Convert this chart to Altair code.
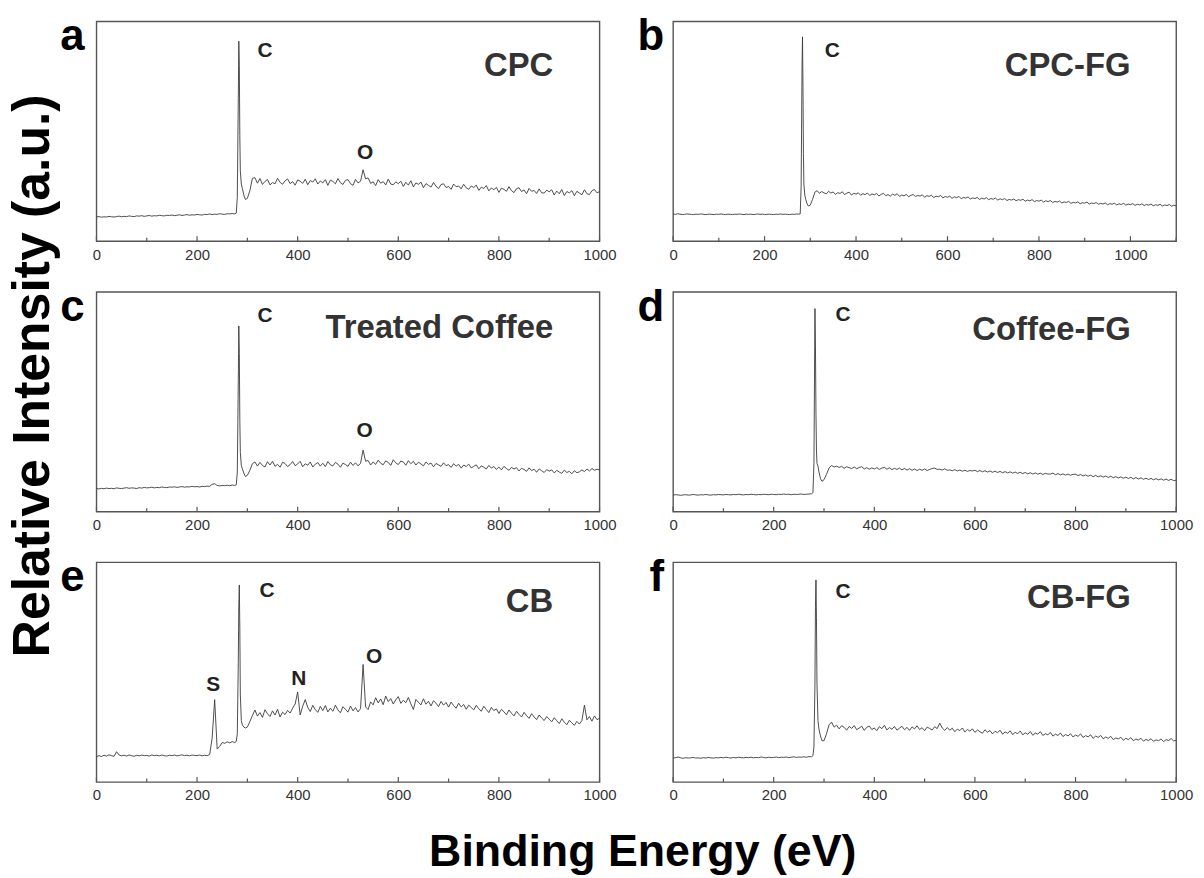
import altair as alt
import pandas as pd

FONT = "Liberation Sans"
FRAME = "#555555"
LINE = "#3a3a3a"
W, H = 506, 221

# Binding-energy sampling of the survey scans (eV)
E_LOW = list(range(0, 280, 5))                                      # 0 ... 275
E_PEAK = [278, 280, 282, 283, 284, 285, 286, 288, 290, 293, 296]    # C 1s region
E_HIGH = list(range(300, 1005, 5))                                  # 300 ... 1000
E_HIGH_LONG = list(range(300, 1105, 5))                             # 300 ... 1100

ENERGY = E_LOW + E_PEAK + E_HIGH
ENERGY_LONG = E_LOW + E_PEAK + E_HIGH_LONG

# Relative intensity, % of panel height
cpc = [
    11.0, 11.2, 10.9, 11.1, 11.0, 11.3, 11.1, 11.0, 11.2, 11.4,
    11.1, 11.3, 11.2, 11.5, 11.3, 11.2, 11.5, 11.4, 11.6, 11.3,
    11.5, 11.7, 11.4, 11.6, 11.5, 11.8, 11.6, 11.5, 11.8, 11.7,
    11.9, 11.6, 11.8, 12.0, 11.7, 11.9, 12.1, 11.8, 12.0, 11.9,
    12.2, 12.0, 11.9, 12.2, 12.1, 12.4, 12.1, 12.3, 12.2, 12.5,
    12.3, 12.2, 12.5, 12.4, 12.6, 12.4,
    12.8, 20.0, 65.0, 91.0, 80.0, 48.0, 32.0, 26.0, 24.0, 21.0, 19.0,
    19.5, 23.0, 28.6, 28.9, 26.4, 28.5, 25.8, 27.2, 28.1, 25.6,
    26.7, 26.1, 28.6, 26.8, 25.9, 27.5, 28.3, 26.2, 27.1, 25.5,
    27.9, 27.3, 26.3, 28.2, 25.7, 27.6, 26.9, 28.4, 26.0, 27.4,
    26.5, 28.0, 25.4, 27.8, 27.2, 26.1, 28.5, 26.6, 25.8, 27.7,
    28.0, 26.2, 25.4, 28.1, 26.5, 27.3, 32.5, 28.4, 28.8, 26.3,
    27.0, 25.3, 28.0, 26.4, 27.1, 25.6, 28.2, 26.0, 25.7, 27.0,
    26.2, 27.3, 24.9, 26.8, 25.5, 27.5, 24.7, 26.5, 25.9, 26.9,
    24.3, 26.2, 25.4, 24.6, 26.7, 25.0, 23.9, 25.8, 26.1, 24.4,
    24.9, 23.6, 26.0, 24.8, 25.1, 23.8, 25.9, 24.3, 23.6, 25.1,
    24.4, 25.5, 23.1, 24.6, 24.0, 25.3, 22.9, 24.2, 23.4, 24.5,
    22.2, 24.1, 23.6, 22.7, 24.8, 23.0, 22.1, 23.9, 24.3, 22.6,
    23.3, 21.6, 24.0, 22.7, 23.1, 21.7, 23.8, 22.0, 21.9, 23.2,
    22.5, 23.4, 21.0, 22.8, 21.6, 23.5, 20.8, 22.6, 22.0, 23.0,
    20.7, 22.7, 21.9, 21.1, 23.4, 21.6, 21.2, 23.0, 23.5, 22.0,
    22.6,
]

cpc_fg = [
    12.4, 12.2, 12.5, 12.3, 12.1, 12.2, 12.4, 12.3, 12.2, 12.1,
    12.3, 12.2, 12.4, 12.3, 12.1, 12.2, 12.3, 12.2, 12.1, 12.3,
    12.2, 12.4, 12.2, 12.1, 12.3, 12.2, 12.1, 12.3, 12.2, 12.4,
    12.2, 12.1, 12.3, 12.2, 12.3, 12.1, 12.2, 12.4, 12.2, 12.3,
    12.1, 12.2, 12.3, 12.2, 12.1, 12.3, 12.2, 12.4, 12.2, 12.3,
    12.2, 12.1, 12.3, 12.2, 12.4, 12.3,
    12.4, 25.0, 80.0, 93.0, 70.0, 40.0, 26.0, 21.0, 19.0, 17.0, 16.0,
    16.4, 19.0, 22.3, 23.0, 21.8, 22.6, 22.0, 21.5, 22.7, 21.9,
    22.4, 21.3, 22.1, 21.7, 22.5, 21.2, 21.9, 22.3, 21.0, 21.8,
    21.4, 22.0, 20.9, 21.6, 21.2, 21.9, 20.8, 21.5, 21.1, 21.7,
    20.6, 21.3, 21.8, 20.7, 21.2, 20.5, 21.4, 20.9, 21.6, 20.4,
    21.0, 20.6, 21.3, 20.2, 20.9, 21.2, 20.3, 20.8, 20.5, 21.1,
    20.0, 20.7, 20.4, 20.9, 19.8, 20.5, 20.2, 20.8, 19.7, 20.3,
    20.0, 20.5, 19.5, 20.2, 19.8, 20.4, 19.3, 19.9, 19.6, 20.1,
    19.2, 19.7, 19.4, 19.9, 19.0, 19.6, 19.2, 19.8, 18.9, 19.4,
    19.1, 19.6, 18.7, 19.3, 18.9, 19.4, 18.5, 19.0, 18.7, 19.2,
    18.4, 18.9, 18.6, 19.1, 18.2, 18.7, 18.4, 18.9, 18.0, 18.5,
    18.2, 18.7, 17.8, 18.4, 18.0, 18.5, 17.6, 18.1, 17.8, 18.3,
    17.4, 17.9, 17.6, 18.1, 17.2, 17.7, 17.4, 17.9, 17.0, 17.5,
    17.3, 17.8, 16.9, 17.4, 17.1, 17.6, 16.8, 17.2, 16.9, 17.4,
    16.6, 17.1, 16.8, 17.3, 16.5, 17.0, 16.7, 17.2, 16.4, 16.9,
    16.6, 17.1, 16.3, 16.8, 16.5, 17.0, 16.2, 16.7, 16.4, 16.9,
    16.1, 16.6, 16.3, 16.8, 16.0, 16.5, 16.2, 16.7, 15.9, 16.4,
    16.0,
]

treated_coffee = [
    10.5, 10.3, 10.6, 10.4, 10.7, 10.5, 10.6, 10.4, 10.8, 10.6,
    10.5, 10.7, 10.9, 10.6, 10.8, 10.7, 10.5, 10.9, 10.7, 11.0,
    10.8, 10.9, 11.1, 10.8, 11.0, 10.9, 11.2, 11.0, 10.9, 11.2,
    11.1, 11.3, 11.0, 11.2, 11.4, 11.1, 11.3, 11.2, 11.5, 11.3,
    11.4, 11.2, 11.5, 11.4, 11.6, 11.5, 12.4, 12.7, 11.9, 11.7,
    11.9, 11.8, 12.0, 11.8, 12.1, 11.9,
    12.2, 18.0, 60.0, 84.5, 72.0, 42.0, 27.0, 21.0, 19.5, 17.5, 16.0,
    16.5, 18.8, 21.8, 22.6, 20.7, 22.4, 21.0, 20.3, 22.7, 21.2,
    22.9, 20.6, 21.5, 20.2, 22.5, 21.9, 20.5, 21.4, 22.8, 20.9,
    21.7, 22.9, 20.4, 21.8, 21.1, 22.6, 20.3, 21.6, 22.3, 20.7,
    22.0, 20.5, 22.8, 21.3, 20.8, 22.4, 21.6, 20.2, 22.1, 21.4,
    20.6, 22.5, 21.0, 22.2, 20.8, 22.0, 28.0, 22.9, 23.3, 21.2,
    22.6, 21.5, 23.4, 22.0, 21.3, 23.1, 22.4, 21.0, 23.6, 22.2,
    21.4, 23.0, 22.6, 21.1, 23.2, 21.8, 22.9, 21.2, 22.5, 21.7,
    20.8, 22.6, 21.5, 22.1, 20.4, 21.9, 21.3, 20.6, 22.2, 20.9,
    21.4, 20.1, 21.8, 20.7, 21.5, 19.8, 21.2, 20.5, 21.6, 19.9,
    20.6, 21.3, 19.5, 20.8, 20.2, 19.4, 21.0, 19.8, 20.5, 19.2,
    20.3, 19.0, 20.6, 19.6, 18.8, 20.1, 19.4, 20.0, 18.5, 19.7,
    19.2, 18.3, 19.9, 18.7, 19.3, 17.9, 19.4, 18.6, 17.8, 19.1,
    18.4, 19.0, 17.6, 18.8, 18.0, 17.4, 18.9, 17.8, 18.3, 17.2,
    18.6, 17.7, 18.1, 19.0, 18.2, 19.4, 18.5, 19.6, 18.8, 19.3,
    19.0,
]

coffee_fg = [
    7.5, 7.7, 7.6, 7.4, 7.6, 7.7, 7.5, 7.6, 7.8, 7.6,
    7.5, 7.7, 7.6, 7.8, 7.6, 7.5, 7.7, 7.6, 7.8, 7.7,
    7.6, 7.8, 7.7, 7.6, 7.8, 7.7, 7.9, 7.7, 7.6, 7.8,
    7.7, 7.9, 7.8, 7.6, 7.8, 7.7, 7.9, 7.8, 7.7, 7.9,
    7.8, 7.7, 7.9, 7.8, 8.0, 7.8, 7.9, 7.7, 7.9, 7.8,
    7.9, 8.0, 7.8, 7.9, 8.0, 8.1,
    8.6, 22.0, 92.4, 75.0, 45.0, 28.0, 22.0, 20.7, 18.0, 15.0, 13.8,
    14.5, 17.0, 19.8, 21.0, 20.3, 20.7, 20.1, 20.6, 19.7, 20.4,
    20.0, 19.6, 20.3, 19.5, 20.1, 20.4, 19.4, 20.0, 19.3, 19.9,
    19.4, 20.0, 19.2, 19.8, 20.1, 19.3, 19.9, 19.1, 19.7, 19.2,
    19.8, 19.0, 19.6, 18.9, 19.5, 18.8, 19.4, 18.7, 19.3, 18.8,
    19.4, 18.7, 19.2, 19.6, 19.8, 19.2, 19.3, 18.9, 19.5, 18.8,
    19.0, 18.6, 19.1, 18.5, 18.9, 18.4, 18.8, 18.3, 18.7, 18.5,
    18.8, 18.2, 18.7, 18.1, 18.6, 18.0, 18.5, 17.9, 18.4, 17.8,
    18.3, 17.7, 18.2, 17.6, 18.1, 17.5, 18.0, 17.4, 17.9, 17.3,
    17.8, 17.2, 17.7, 17.1, 17.6, 17.0, 17.5, 16.9, 17.4, 17.1,
    17.1, 17.5, 16.8, 17.3, 16.7, 17.2, 16.6, 17.1, 16.5, 17.0,
    17.0, 16.4, 16.9, 16.2, 16.7, 16.1, 16.6, 15.9, 16.5, 15.8,
    16.3, 15.7, 16.2, 15.5, 16.1, 15.4, 15.9, 15.3, 15.8, 15.2,
    15.7, 15.1, 15.6, 14.9, 15.5, 14.8, 15.4, 14.7, 15.2, 14.6,
    15.1, 14.5, 15.0, 14.4, 14.9, 14.3, 14.8, 14.2, 14.7, 14.1,
    14.3,
]

cb = [
    11.5, 12.0, 11.6, 12.2, 11.8, 12.4, 12.0, 11.7, 13.8, 12.3,
    11.9, 12.2, 11.8, 12.3, 12.0, 11.7, 12.2, 11.9, 12.3, 12.0,
    12.1, 11.8, 12.3, 12.0, 12.2, 11.9, 12.3, 12.0, 11.8, 12.2,
    12.0, 12.3, 11.9, 12.1, 12.4, 12.0, 12.2, 11.9, 12.3, 12.1,
    12.0, 12.3, 11.9, 12.2, 12.0, 12.5, 20.0, 37.5, 15.0, 16.2,
    18.0, 17.6, 18.3, 17.8, 18.4, 18.0,
    18.5, 22.0, 55.0, 80.0, 89.7, 70.0, 40.0, 28.0, 26.0, 25.0, 24.6,
    25.0, 27.5, 30.2, 32.8, 30.0, 31.6, 29.4, 32.9, 31.1, 29.8,
    32.4, 30.5, 33.1, 29.6, 31.8, 30.7, 32.6, 31.4, 33.6, 35.5,
    41.0, 30.5, 34.5, 37.5, 34.0, 32.1, 34.9, 33.0, 31.7, 34.4,
    32.5, 34.8, 31.9, 33.6, 32.2, 35.0, 32.8, 31.5, 34.3, 33.1,
    31.8, 34.6, 32.4, 33.9, 31.9, 33.4, 53.5, 34.2, 33.0, 36.5,
    35.1, 38.4, 36.0, 37.8, 35.2, 39.1, 36.6, 38.0, 35.5, 37.4,
    38.9, 35.8, 37.2, 36.1, 38.5, 35.6, 33.0, 37.6, 36.3, 35.1,
    37.9, 35.4, 36.8, 34.6, 37.0, 35.9, 34.3, 36.7, 35.0, 36.2,
    34.1, 36.4, 34.8, 33.6, 35.9, 34.2, 35.3, 33.1, 35.0, 33.9,
    32.8, 34.9, 33.4, 32.2, 34.5, 33.0, 31.6, 34.0, 32.5, 33.3,
    31.2, 33.1, 32.0, 30.6, 32.8, 31.3, 30.1, 32.2, 30.8, 29.6,
    31.7, 30.2, 29.0, 31.1, 29.6, 28.4, 30.5, 29.1, 28.0, 29.8,
    28.6, 27.4, 29.3, 27.9, 26.6, 28.8, 27.2, 26.1, 28.1, 26.9,
    25.8, 27.6, 26.4, 28.0, 35.0, 28.3, 29.8, 27.7, 30.1, 28.4,
    29.0,
]

cb_fg = [
    10.9, 11.1, 11.4, 11.0, 10.8, 11.1, 10.9, 11.0, 11.2, 10.9,
    11.0, 10.8, 11.1, 10.9, 11.2, 11.0, 10.9, 11.1, 11.0, 11.2,
    11.0, 11.3, 11.1, 10.9, 11.2, 11.0, 11.3, 11.1, 11.0, 11.2,
    11.1, 11.3, 11.0, 11.2, 11.1, 11.4, 11.2, 11.0, 11.3, 11.1,
    11.2, 11.4, 11.1, 11.3, 11.2, 11.4, 11.1, 11.3, 11.5, 11.2,
    11.4, 11.3, 11.5, 11.3, 11.6, 11.5,
    12.0, 16.0, 45.0, 80.0, 92.0, 75.0, 45.0, 28.0, 24.0, 21.0, 18.8,
    18.8, 22.0, 26.0, 27.3, 25.0, 25.9, 24.2, 25.6, 24.9, 23.6,
    25.3, 24.4, 25.7, 23.8, 24.6, 25.4, 23.5, 24.9, 25.5, 23.9,
    24.6, 23.4, 25.2, 24.3, 25.8, 23.7, 24.8, 24.0, 25.3, 23.6,
    24.5, 25.4, 23.8, 24.9, 23.5, 25.1, 24.2, 25.6, 23.9, 24.7,
    23.4, 25.0, 24.4, 23.7, 25.2, 24.3, 26.8, 24.6, 23.5, 24.8,
    23.6, 24.5, 22.9, 24.1, 23.4, 24.6, 22.8, 23.9, 23.2, 24.2,
    22.6, 23.7, 22.9, 22.2, 23.8, 22.7, 23.4, 21.9, 23.1, 22.5,
    23.6, 21.8, 22.8, 22.2, 23.3, 21.6, 22.6, 22.0, 23.2, 21.5,
    22.4, 21.7, 23.0, 21.3, 22.3, 21.8, 22.9, 21.2, 22.0, 21.5,
    22.6, 20.9, 21.8, 21.2, 22.3, 20.7, 21.6, 21.0, 22.0, 20.5,
    21.4, 20.8, 21.9, 20.3, 21.1, 20.6, 21.5, 19.9, 20.9, 20.3,
    21.2, 19.7, 20.5, 19.9, 20.8, 19.3, 20.1, 19.6, 20.4, 19.0,
    19.9, 19.3, 20.2, 18.8, 19.6, 19.1, 19.9, 18.6, 19.4, 18.9,
    19.7, 18.5, 19.2, 18.8, 19.6, 18.4, 19.3, 18.9, 19.8, 18.7,
    19.0,
]


def spectrum_panel(letter, name, energy, counts, xmax, name_at, peaks,
                   letter_gap, y_title=None, x_title=None):
    """One XPS survey panel: framed spectrum, inward ticks and annotations."""
    x_axis = dict(
        values=list(range(0, 1001, 200)), format="d", ticks=False, tickSize=0,
        domain=False, grid=False, labelFont=FONT, labelFontSize=15,
        labelColor="#333333", labelPadding=6, labelFlush=False,
        labelOverlap=False, title=None,
    )
    if x_title:
        x_axis.update(
            title=x_title, titleFont=FONT, titleFontSize=45, titleFontWeight="bold",
            titleColor="#000000", titleX=549, titleY=84, titleAngle=0,
            titleAlign="center", titleBaseline="alphabetic",
        )
    x_enc = alt.X("energy:Q", scale=alt.Scale(domain=[0, xmax], nice=False, zero=False),
                  axis=alt.Axis(**x_axis))
    if y_title:
        y_axis = alt.Axis(
            title=y_title, labels=False, ticks=False, domain=False, grid=False,
            titleFont=FONT, titleFontSize=52, titleFontWeight="bold",
            titleColor="#000000", titleX=-48, titleY=84, titleAngle=270,
            titleAlign="center", titleBaseline="alphabetic",
        )
    else:
        y_axis = None
    y_enc = alt.Y("intensity:Q", scale=alt.Scale(domain=[0, 100], nice=False), axis=y_axis)

    spectrum = pd.DataFrame({"energy": energy, "intensity": counts})
    line = alt.Chart(spectrum).mark_line(color=LINE, strokeWidth=0.9).encode(x=x_enc, y=y_enc)

    major = pd.DataFrame({"energy": list(range(0, xmax + 1, 200))})
    minor = pd.DataFrame({"energy": list(range(100, xmax + 1, 200))})
    major_ticks = alt.Chart(major).mark_rule(color=FRAME, strokeWidth=1.2).encode(
        x=x_enc, y=alt.value(H), y2=alt.value(H - 5))
    minor_ticks = alt.Chart(minor).mark_rule(color=FRAME, strokeWidth=1.2).encode(
        x=x_enc, y=alt.value(H), y2=alt.value(H - 3.5))

    letter_text = alt.Chart(pd.DataFrame({"label": [letter]})).mark_text(
        align="right", baseline="alphabetic", font=FONT, fontSize=44,
        fontWeight="bold", color="#000000",
    ).encode(x=alt.value(-letter_gap), y=alt.value(29), text="label:N")

    name_df = pd.DataFrame({"label": [name], "energy": [name_at[0]], "intensity": [name_at[1]]})
    name_text = alt.Chart(name_df).mark_text(
        align="right", baseline="alphabetic", font=FONT, fontSize=33,
        fontWeight="bold", color="#333333",
    ).encode(x=x_enc, y=y_enc, text="label:N")

    peak_df = pd.DataFrame({
        "label": [p[0] for p in peaks],
        "energy": [p[1] for p in peaks],
        "intensity": [p[2] for p in peaks],
    })
    peak_text = alt.Chart(peak_df).mark_text(
        align="center", baseline="alphabetic", font=FONT, fontSize=21,
        fontWeight="bold", color="#222222",
    ).encode(x=x_enc, y=y_enc, text="label:N")

    return alt.layer(line, major_ticks, minor_ticks, letter_text, name_text, peak_text).properties(
        width=W, height=H)


a = spectrum_panel("a", "CPC", ENERGY, cpc, 1000, (908, 75.0),
                   [("C", 335, 83.6), ("O", 534, 37.3)], 12)
b = spectrum_panel("b", "CPC-FG", ENERGY_LONG, cpc_fg, 1100, (1000, 75.0),
                   [("C", 348, 83.6)], 9)
c = spectrum_panel("c", "Treated Coffee", ENERGY, treated_coffee, 1000, (908, 79.0),
                   [("C", 335, 86.3), ("O", 533, 33.9)], 12,
                   y_title="Relative Intensity (a.u.)")
d = spectrum_panel("d", "Coffee-FG", ENERGY, coffee_fg, 1000, (910, 78.0),
                   [("C", 338, 86.7)], 9)
e = spectrum_panel("e", "CB", ENERGY, cb, 1000, (908, 77.5),
                   [("C", 339, 84.3), ("S", 232, 41.5), ("N", 402, 44.0), ("O", 552, 54.0)], 12,
                   x_title="Binding Energy (eV)")
f = spectrum_panel("f", "CB-FG", ENERGY, cb_fg, 1000, (910, 79.0),
                   [("C", 338, 83.8)], 9)

chart = alt.concat(
    a, b, c, d, e, f, columns=2, spacing={"row": 51, "column": 74}, bounds="flush"
).configure_view(
    stroke=FRAME, strokeWidth=1.4
).properties(
    padding={"left": 6, "top": 12, "right": 10, "bottom": 10},
    background="white",
)

chart.save("out.html", embed_options={"renderer": "svg", "actions": False})
